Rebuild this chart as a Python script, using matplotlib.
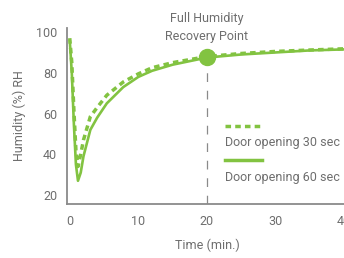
import matplotlib
matplotlib.use("Agg")
import matplotlib.pyplot as plt
from matplotlib.lines import Line2D

# humidity recovery after door opening
time_min = [0, 0.3, 0.6, 0.9, 1.2, 1.6, 2, 3, 4, 5.4, 7.8, 10, 12, 15, 20, 25, 30, 35, 40, 44]
door_60_sec = [96, 80, 55, 35, 27, 31, 39, 52, 58, 65, 73, 78, 81, 84, 87.5, 89, 90, 91, 91.5, 91.8]
door_30_sec = [97, 85, 62, 42, 34, 40, 47, 58.5, 63, 69, 75.5, 79.5, 82.5, 85, 88, 89.5, 90.5, 91.2, 91.8, 92]

recovery_time = 20
recovery_value = 88

x_ticks = [0, 10, 20, 30, 40]
y_ticks = [20, 40, 60, 80, 100]

green = "#82c341"
gray_text = "#6e6e6e"
gray_axis = "#8a8a8a"
font = "Roboto"
fs = 9

fig = plt.figure(figsize=(3.44, 2.58), dpi=100)
ax = fig.add_axes([67 / 344, 54 / 258, 304.7 / 344, 176 / 258])

ax.plot(time_min, door_60_sec, color=green, lw=1.9, solid_capstyle="round")
ax.plot(time_min, door_30_sec, color=green, lw=2.5, linestyle=(0, (1.6, 1.2)))

ax.plot([recovery_time, recovery_time], [15.6, 84], color=gray_axis, lw=0.9,
        linestyle=(0, (7, 7)), zorder=1)
ax.plot([recovery_time], [recovery_value], "o", color=green, ms=11.5, zorder=5)

ax.text(recovery_time, 106.9, "Full Humidity", ha="center", va="center",
        fontsize=fs, color=gray_text, family=font, clip_on=False)
ax.text(recovery_time, 97.6, "Recovery Point", ha="center", va="center",
        fontsize=fs, color=gray_text, family=font, clip_on=False)

ax.set_xlim(-0.4, 44)
ax.set_ylim(15.6, 102)
ax.set_xticks(x_ticks)
ax.set_yticks(y_ticks)
ax.tick_params(length=0, labelsize=fs, labelcolor=gray_text)
ax.tick_params(axis="x", pad=8)
ax.tick_params(axis="y", pad=7)
for lab in ax.get_xticklabels() + ax.get_yticklabels():
    lab.set_family(font)

for side in ["top", "right"]:
    ax.spines[side].set_visible(False)
for side in ["left", "bottom"]:
    ax.spines[side].set_color(gray_axis)
    ax.spines[side].set_linewidth(1.3)

ax.set_ylabel("Humidity (%) RH", fontsize=fs, color=gray_text, family=font, labelpad=7)
fig.text(207 / 344, 13 / 258, "Time (min.)", ha="center", va="center",
         fontsize=fs, color=gray_text, family=font)

# legend: line sample above each label
ax.add_line(Line2D([0.519, 0.64], [0.443, 0.443], transform=ax.transAxes,
                   color=green, lw=2.5, linestyle=(0, (1.6, 1.2))))
ax.text(0.519, 0.347, "Door opening 30 sec", transform=ax.transAxes, ha="left",
        va="center", fontsize=fs, color=gray_text, family=font)
ax.add_line(Line2D([0.519, 0.64], [0.25, 0.25], transform=ax.transAxes,
                   color=green, lw=2.5))
ax.text(0.519, 0.148, "Door opening 60 sec", transform=ax.transAxes, ha="left",
        va="center", fontsize=fs, color=gray_text, family=font)

fig.savefig("out.png", dpi=100)
